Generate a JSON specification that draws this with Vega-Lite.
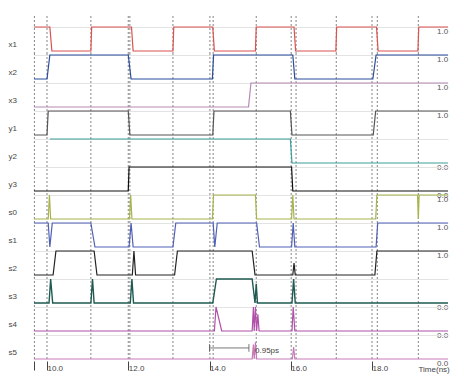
{
"$schema": "https://vega.github.io/schema/vega-lite/v6.json",
"padding": {"left": 8, "top": 15, "right": 5, "bottom": 5},
"config": {"view": {"stroke": null}, "font": "Liberation Sans"},
"spacing": 0,
"bounds": "flush",
"datasets": {
"rules": [{"t":9.69},{"t":10.0},{"t":11.08},{"t":12.0},{"t":12.04},{"t":13.1},{"t":14.01},{"t":14.09},{"t":15.15},{"t":16.01},{"t":16.13},{"t":17.12},{"t":18.0},{"t":18.13},{"t":19.14}],
"ends": [{"s":"x1","v":1,"lab":"1.0"},{"s":"x2","v":1,"lab":"1.0"},{"s":"x3","v":1,"lab":"1.0"},{"s":"y1","v":1,"lab":"1.0"},{"s":"y2","v":0,"lab":"0.0"},{"s":"y3","v":0,"lab":"0.0"},{"s":"s0","v":1,"lab":"1.0"},{"s":"s1","v":1,"lab":"1.0"},{"s":"s2","v":1,"lab":"1.0"},{"s":"s3","v":0,"lab":"0.0"},{"s":"s4","v":0,"lab":"0.0"},{"s":"s5","v":0,"lab":"0.0"}],
"meas": [{"t1":14.0,"t2":14.97,"v":0.46,"lo":0.3,"hi":0.62,"tl":15.12,"vl":0.33,"lab":"0.95ps"}],
"wave": [
{"s":"x1","t":9.68,"v":1},{"s":"x1","t":10.07,"v":1},{"s":"x1","t":10.12,"v":0},{"s":"x1","t":11.08,"v":0},{"s":"x1","t":11.1,"v":1},{"s":"x1","t":12.08,"v":1},{"s":"x1","t":12.12,"v":0},{"s":"x1","t":13.1,"v":0},{"s":"x1","t":13.12,"v":1},{"s":"x1","t":14.08,"v":1},{"s":"x1","t":14.12,"v":0},{"s":"x1","t":15.13,"v":0},{"s":"x1","t":15.15,"v":1},{"s":"x1","t":16.08,"v":1},{"s":"x1","t":16.12,"v":0},{"s":"x1","t":17.11,"v":0},{"s":"x1","t":17.13,"v":1},{"s":"x1","t":18.11,"v":1},{"s":"x1","t":18.15,"v":0},{"s":"x1","t":19.13,"v":0},{"s":"x1","t":19.15,"v":1},{"s":"x1","t":19.87,"v":1},
{"s":"x2","t":9.68,"v":0},{"s":"x2","t":10.0,"v":0},{"s":"x2","t":10.07,"v":1},{"s":"x2","t":12.0,"v":1},{"s":"x2","t":12.07,"v":0},{"s":"x2","t":14.07,"v":0},{"s":"x2","t":14.1,"v":1},{"s":"x2","t":16.05,"v":1},{"s":"x2","t":16.1,"v":0},{"s":"x2","t":18.02,"v":0},{"s":"x2","t":18.1,"v":1},{"s":"x2","t":19.87,"v":1},
{"s":"x3","t":9.68,"v":0},{"s":"x3","t":14.96,"v":0},{"s":"x3","t":15.02,"v":1},{"s":"x3","t":19.87,"v":1},
{"s":"y1","t":9.68,"v":0},{"s":"y1","t":10.0,"v":0},{"s":"y1","t":10.03,"v":1},{"s":"y1","t":12.0,"v":1},{"s":"y1","t":12.04,"v":0},{"s":"y1","t":14.08,"v":0},{"s":"y1","t":14.11,"v":1},{"s":"y1","t":15.99,"v":1},{"s":"y1","t":16.03,"v":0},{"s":"y1","t":18.03,"v":0},{"s":"y1","t":18.09,"v":1},{"s":"y1","t":19.87,"v":1},
{"s":"y2","t":10.07,"v":1},{"s":"y2","t":15.99,"v":1},{"s":"y2","t":16.03,"v":0},{"s":"y2","t":19.87,"v":0},
{"s":"y3","t":9.68,"v":0},{"s":"y3","t":12.0,"v":0},{"s":"y3","t":12.02,"v":1},{"s":"y3","t":16.02,"v":1},{"s":"y3","t":16.05,"v":0},{"s":"y3","t":19.87,"v":0},
{"s":"s0","t":9.68,"v":0},{"s":"s0","t":10.03,"v":0},{"s":"s0","t":10.06,"v":1},{"s":"s0","t":10.09,"v":0},{"s":"s0","t":12.03,"v":0},{"s":"s0","t":12.06,"v":1},{"s":"s0","t":12.09,"v":0},{"s":"s0","t":14.07,"v":0},{"s":"s0","t":14.1,"v":1},{"s":"s0","t":15.13,"v":1},{"s":"s0","t":15.16,"v":0},{"s":"s0","t":16.02,"v":0},{"s":"s0","t":16.05,"v":1},{"s":"s0","t":16.08,"v":0},{"s":"s0","t":18.09,"v":0},{"s":"s0","t":18.12,"v":1},{"s":"s0","t":19.12,"v":1},{"s":"s0","t":19.14,"v":0},{"s":"s0","t":19.16,"v":1},{"s":"s0","t":19.87,"v":1},
{"s":"s1","t":9.68,"v":1},{"s":"s1","t":10.03,"v":1},{"s":"s1","t":10.07,"v":0},{"s":"s1","t":10.13,"v":1},{"s":"s1","t":11.08,"v":1},{"s":"s1","t":11.18,"v":0},{"s":"s1","t":12.02,"v":0},{"s":"s1","t":12.07,"v":1},{"s":"s1","t":12.12,"v":0},{"s":"s1","t":13.1,"v":0},{"s":"s1","t":13.17,"v":1},{"s":"s1","t":14.09,"v":1},{"s":"s1","t":14.13,"v":0},{"s":"s1","t":14.19,"v":1},{"s":"s1","t":15.16,"v":1},{"s":"s1","t":15.23,"v":0},{"s":"s1","t":16.02,"v":0},{"s":"s1","t":16.06,"v":1},{"s":"s1","t":16.1,"v":0},{"s":"s1","t":18.1,"v":0},{"s":"s1","t":18.14,"v":1},{"s":"s1","t":19.87,"v":1},
{"s":"s2","t":9.68,"v":0},{"s":"s2","t":10.15,"v":0},{"s":"s2","t":10.22,"v":1},{"s":"s2","t":11.16,"v":1},{"s":"s2","t":11.23,"v":0},{"s":"s2","t":12.1,"v":0},{"s":"s2","t":12.14,"v":1},{"s":"s2","t":12.18,"v":0},{"s":"s2","t":13.14,"v":0},{"s":"s2","t":13.21,"v":1},{"s":"s2","t":15.05,"v":1},{"s":"s2","t":15.12,"v":0},{"s":"s2","t":16.05,"v":0},{"s":"s2","t":16.08,"v":0.5},{"s":"s2","t":16.11,"v":0},{"s":"s2","t":18.07,"v":0},{"s":"s2","t":18.12,"v":1},{"s":"s2","t":19.87,"v":1},
{"s":"s3","t":9.68,"v":0},{"s":"s3","t":10.05,"v":0},{"s":"s3","t":10.09,"v":1},{"s":"s3","t":10.14,"v":0},{"s":"s3","t":11.08,"v":0},{"s":"s3","t":11.12,"v":1},{"s":"s3","t":11.16,"v":0},{"s":"s3","t":12.05,"v":0},{"s":"s3","t":12.09,"v":1},{"s":"s3","t":12.13,"v":0},{"s":"s3","t":14.08,"v":0},{"s":"s3","t":14.17,"v":1},{"s":"s3","t":15.05,"v":1},{"s":"s3","t":15.12,"v":0},{"s":"s3","t":15.15,"v":0.8},{"s":"s3","t":15.18,"v":0},{"s":"s3","t":16.03,"v":0},{"s":"s3","t":16.07,"v":1},{"s":"s3","t":16.11,"v":0},{"s":"s3","t":19.87,"v":0},
{"s":"s4","t":9.68,"v":0},{"s":"s4","t":14.12,"v":0},{"s":"s4","t":14.16,"v":1},{"s":"s4","t":14.3,"v":0},{"s":"s4","t":15.05,"v":0},{"s":"s4","t":15.08,"v":1},{"s":"s4","t":15.1,"v":0},{"s":"s4","t":15.13,"v":1},{"s":"s4","t":15.16,"v":0},{"s":"s4","t":15.19,"v":0.7},{"s":"s4","t":15.22,"v":0},{"s":"s4","t":16.03,"v":0},{"s":"s4","t":16.06,"v":1},{"s":"s4","t":16.1,"v":0},{"s":"s4","t":19.87,"v":0},
{"s":"s5","t":9.68,"v":0},{"s":"s5","t":15.05,"v":0},{"s":"s5","t":15.08,"v":0.6},{"s":"s5","t":15.1,"v":0},{"s":"s5","t":15.13,"v":0.7},{"s":"s5","t":15.16,"v":0},{"s":"s5","t":16.04,"v":0},{"s":"s5","t":16.07,"v":0.5},{"s":"s5","t":16.1,"v":0},{"s":"s5","t":19.87,"v":0}
]
},
"resolve": {"scale": {"y": "independent"}},
"vconcat": [
{"width":414,"height":37,"layer":[
{"data":{"name":"rules"},"mark":{"type":"rule","color":"#666","strokeDash":[2,2],"strokeWidth":0.8},"encoding":{"x":{"field":"t","type":"quantitative","scale":{"domain":[9.68,19.87],"nice":false,"zero":false},"axis":null}}},
{"data":{"name":"wave"},"transform":[{"filter":{"field":"s","equal":"x1"}}],"mark":{"type":"line","color":"#d9534f","strokeWidth":1.2,"clip":true},"encoding":{"x":{"field":"t","type":"quantitative","axis":null},"y":{"field":"v","type":"quantitative","scale":{"domain":[-0.0833,1.4583],"nice":false,"zero":false},"axis":{"title":"x1","values":[1],"labels":false,"ticks":false,"domain":false,"grid":true,"gridColor":"#e3e3e3","titleAngle":0,"titleAlign":"left","titleBaseline":"middle","titleX":-26,"titleY":28,"titleFontSize":8,"titleFontWeight":"normal","titleColor":"#444"}}}},
{"data":{"name":"ends"},"transform":[{"filter":{"field":"s","equal":"x1"}}],"mark":{"type":"text","align":"left","baseline":"middle","dy":5,"fontSize":8,"color":"#555"},"encoding":{"x":{"datum":19.6},"y":{"field":"v","type":"quantitative"},"text":{"field":"lab"}}}
]},
{"width":414,"height":28,"layer":[
{"data":{"name":"rules"},"mark":{"type":"rule","color":"#666","strokeDash":[2,2],"strokeWidth":0.8},"encoding":{"x":{"field":"t","type":"quantitative","scale":{"domain":[9.68,19.87],"nice":false,"zero":false},"axis":null}}},
{"data":{"name":"wave"},"transform":[{"filter":{"field":"s","equal":"x2"}}],"mark":{"type":"line","color":"#2b4c9b","strokeWidth":1.2,"clip":true},"encoding":{"x":{"field":"t","type":"quantitative","axis":null},"y":{"field":"v","type":"quantitative","scale":{"domain":[-0.0833,1.0833],"nice":false,"zero":false},"axis":{"title":"x2","values":[1],"labels":false,"ticks":false,"domain":false,"grid":true,"gridColor":"#e3e3e3","titleAngle":0,"titleAlign":"left","titleBaseline":"middle","titleX":-26,"titleY":19,"titleFontSize":8,"titleFontWeight":"normal","titleColor":"#444"}}}},
{"data":{"name":"ends"},"transform":[{"filter":{"field":"s","equal":"x2"}}],"mark":{"type":"text","align":"left","baseline":"middle","dy":5,"fontSize":8,"color":"#555"},"encoding":{"x":{"datum":19.6},"y":{"field":"v","type":"quantitative"},"text":{"field":"lab"}}}
]},
{"width":414,"height":28,"layer":[
{"data":{"name":"rules"},"mark":{"type":"rule","color":"#666","strokeDash":[2,2],"strokeWidth":0.8},"encoding":{"x":{"field":"t","type":"quantitative","scale":{"domain":[9.68,19.87],"nice":false,"zero":false},"axis":null}}},
{"data":{"name":"wave"},"transform":[{"filter":{"field":"s","equal":"x3"}}],"mark":{"type":"line","color":"#b48ab4","strokeWidth":1.2,"clip":true},"encoding":{"x":{"field":"t","type":"quantitative","axis":null},"y":{"field":"v","type":"quantitative","scale":{"domain":[-0.0833,1.0833],"nice":false,"zero":false},"axis":{"title":"x3","values":[1],"labels":false,"ticks":false,"domain":false,"grid":true,"gridColor":"#e3e3e3","titleAngle":0,"titleAlign":"left","titleBaseline":"middle","titleX":-26,"titleY":19,"titleFontSize":8,"titleFontWeight":"normal","titleColor":"#444"}}}},
{"data":{"name":"ends"},"transform":[{"filter":{"field":"s","equal":"x3"}}],"mark":{"type":"text","align":"left","baseline":"middle","dy":5,"fontSize":8,"color":"#555"},"encoding":{"x":{"datum":19.6},"y":{"field":"v","type":"quantitative"},"text":{"field":"lab"}}}
]},
{"width":414,"height":28,"layer":[
{"data":{"name":"rules"},"mark":{"type":"rule","color":"#666","strokeDash":[2,2],"strokeWidth":0.8},"encoding":{"x":{"field":"t","type":"quantitative","scale":{"domain":[9.68,19.87],"nice":false,"zero":false},"axis":null}}},
{"data":{"name":"wave"},"transform":[{"filter":{"field":"s","equal":"y1"}}],"mark":{"type":"line","color":"#555555","strokeWidth":1.2,"clip":true},"encoding":{"x":{"field":"t","type":"quantitative","axis":null},"y":{"field":"v","type":"quantitative","scale":{"domain":[-0.0833,1.0833],"nice":false,"zero":false},"axis":{"title":"y1","values":[1],"labels":false,"ticks":false,"domain":false,"grid":true,"gridColor":"#e3e3e3","titleAngle":0,"titleAlign":"left","titleBaseline":"middle","titleX":-26,"titleY":19,"titleFontSize":8,"titleFontWeight":"normal","titleColor":"#444"}}}},
{"data":{"name":"ends"},"transform":[{"filter":{"field":"s","equal":"y1"}}],"mark":{"type":"text","align":"left","baseline":"middle","dy":5,"fontSize":8,"color":"#555"},"encoding":{"x":{"datum":19.6},"y":{"field":"v","type":"quantitative"},"text":{"field":"lab"}}}
]},
{"width":414,"height":28,"layer":[
{"data":{"name":"rules"},"mark":{"type":"rule","color":"#666","strokeDash":[2,2],"strokeWidth":0.8},"encoding":{"x":{"field":"t","type":"quantitative","scale":{"domain":[9.68,19.87],"nice":false,"zero":false},"axis":null}}},
{"data":{"name":"wave"},"transform":[{"filter":{"field":"s","equal":"y2"}}],"mark":{"type":"line","color":"#3a9e9e","strokeWidth":1.2,"clip":true},"encoding":{"x":{"field":"t","type":"quantitative","axis":null},"y":{"field":"v","type":"quantitative","scale":{"domain":[-0.0833,1.0833],"nice":false,"zero":false},"axis":{"title":"y2","values":[1],"labels":false,"ticks":false,"domain":false,"grid":true,"gridColor":"#e3e3e3","titleAngle":0,"titleAlign":"left","titleBaseline":"middle","titleX":-26,"titleY":19,"titleFontSize":8,"titleFontWeight":"normal","titleColor":"#444"}}}},
{"data":{"name":"ends"},"transform":[{"filter":{"field":"s","equal":"y2"}}],"mark":{"type":"text","align":"left","baseline":"middle","dy":5,"fontSize":8,"color":"#555"},"encoding":{"x":{"datum":19.6},"y":{"field":"v","type":"quantitative"},"text":{"field":"lab"}}}
]},
{"width":414,"height":28,"layer":[
{"data":{"name":"rules"},"mark":{"type":"rule","color":"#666","strokeDash":[2,2],"strokeWidth":0.8},"encoding":{"x":{"field":"t","type":"quantitative","scale":{"domain":[9.68,19.87],"nice":false,"zero":false},"axis":null}}},
{"data":{"name":"wave"},"transform":[{"filter":{"field":"s","equal":"y3"}}],"mark":{"type":"line","color":"#111111","strokeWidth":1.2,"clip":true},"encoding":{"x":{"field":"t","type":"quantitative","axis":null},"y":{"field":"v","type":"quantitative","scale":{"domain":[-0.0833,1.0833],"nice":false,"zero":false},"axis":{"title":"y3","values":[1],"labels":false,"ticks":false,"domain":false,"grid":true,"gridColor":"#e3e3e3","titleAngle":0,"titleAlign":"left","titleBaseline":"middle","titleX":-26,"titleY":19,"titleFontSize":8,"titleFontWeight":"normal","titleColor":"#444"}}}},
{"data":{"name":"ends"},"transform":[{"filter":{"field":"s","equal":"y3"}}],"mark":{"type":"text","align":"left","baseline":"middle","dy":5,"fontSize":8,"color":"#555"},"encoding":{"x":{"datum":19.6},"y":{"field":"v","type":"quantitative"},"text":{"field":"lab"}}}
]},
{"width":414,"height":28,"layer":[
{"data":{"name":"rules"},"mark":{"type":"rule","color":"#666","strokeDash":[2,2],"strokeWidth":0.8},"encoding":{"x":{"field":"t","type":"quantitative","scale":{"domain":[9.68,19.87],"nice":false,"zero":false},"axis":null}}},
{"data":{"name":"wave"},"transform":[{"filter":{"field":"s","equal":"s0"}}],"mark":{"type":"line","color":"#a8b44a","strokeWidth":1.2,"clip":true},"encoding":{"x":{"field":"t","type":"quantitative","axis":null},"y":{"field":"v","type":"quantitative","scale":{"domain":[-0.0833,1.0833],"nice":false,"zero":false},"axis":{"title":"s0","values":[1],"labels":false,"ticks":false,"domain":false,"grid":true,"gridColor":"#e3e3e3","titleAngle":0,"titleAlign":"left","titleBaseline":"middle","titleX":-26,"titleY":19,"titleFontSize":8,"titleFontWeight":"normal","titleColor":"#444"}}}},
{"data":{"name":"ends"},"transform":[{"filter":{"field":"s","equal":"s0"}}],"mark":{"type":"text","align":"left","baseline":"middle","dy":5,"fontSize":8,"color":"#555"},"encoding":{"x":{"datum":19.6},"y":{"field":"v","type":"quantitative"},"text":{"field":"lab"}}}
]},
{"width":414,"height":28,"layer":[
{"data":{"name":"rules"},"mark":{"type":"rule","color":"#666","strokeDash":[2,2],"strokeWidth":0.8},"encoding":{"x":{"field":"t","type":"quantitative","scale":{"domain":[9.68,19.87],"nice":false,"zero":false},"axis":null}}},
{"data":{"name":"wave"},"transform":[{"filter":{"field":"s","equal":"s1"}}],"mark":{"type":"line","color":"#5060b8","strokeWidth":1.2,"clip":true},"encoding":{"x":{"field":"t","type":"quantitative","axis":null},"y":{"field":"v","type":"quantitative","scale":{"domain":[-0.0833,1.0833],"nice":false,"zero":false},"axis":{"title":"s1","values":[1],"labels":false,"ticks":false,"domain":false,"grid":true,"gridColor":"#e3e3e3","titleAngle":0,"titleAlign":"left","titleBaseline":"middle","titleX":-26,"titleY":19,"titleFontSize":8,"titleFontWeight":"normal","titleColor":"#444"}}}},
{"data":{"name":"ends"},"transform":[{"filter":{"field":"s","equal":"s1"}}],"mark":{"type":"text","align":"left","baseline":"middle","dy":5,"fontSize":8,"color":"#555"},"encoding":{"x":{"datum":19.6},"y":{"field":"v","type":"quantitative"},"text":{"field":"lab"}}}
]},
{"width":414,"height":28,"layer":[
{"data":{"name":"rules"},"mark":{"type":"rule","color":"#666","strokeDash":[2,2],"strokeWidth":0.8},"encoding":{"x":{"field":"t","type":"quantitative","scale":{"domain":[9.68,19.87],"nice":false,"zero":false},"axis":null}}},
{"data":{"name":"wave"},"transform":[{"filter":{"field":"s","equal":"s2"}}],"mark":{"type":"line","color":"#222222","strokeWidth":1.2,"clip":true},"encoding":{"x":{"field":"t","type":"quantitative","axis":null},"y":{"field":"v","type":"quantitative","scale":{"domain":[-0.0833,1.0833],"nice":false,"zero":false},"axis":{"title":"s2","values":[1],"labels":false,"ticks":false,"domain":false,"grid":true,"gridColor":"#e3e3e3","titleAngle":0,"titleAlign":"left","titleBaseline":"middle","titleX":-26,"titleY":19,"titleFontSize":8,"titleFontWeight":"normal","titleColor":"#444"}}}},
{"data":{"name":"ends"},"transform":[{"filter":{"field":"s","equal":"s2"}}],"mark":{"type":"text","align":"left","baseline":"middle","dy":5,"fontSize":8,"color":"#555"},"encoding":{"x":{"datum":19.6},"y":{"field":"v","type":"quantitative"},"text":{"field":"lab"}}}
]},
{"width":414,"height":28,"layer":[
{"data":{"name":"rules"},"mark":{"type":"rule","color":"#666","strokeDash":[2,2],"strokeWidth":0.8},"encoding":{"x":{"field":"t","type":"quantitative","scale":{"domain":[9.68,19.87],"nice":false,"zero":false},"axis":null}}},
{"data":{"name":"wave"},"transform":[{"filter":{"field":"s","equal":"s3"}}],"mark":{"type":"line","color":"#1f5a52","strokeWidth":1.4,"clip":true},"encoding":{"x":{"field":"t","type":"quantitative","axis":null},"y":{"field":"v","type":"quantitative","scale":{"domain":[-0.0833,1.0833],"nice":false,"zero":false},"axis":{"title":"s3","values":[1],"labels":false,"ticks":false,"domain":false,"grid":true,"gridColor":"#e3e3e3","titleAngle":0,"titleAlign":"left","titleBaseline":"middle","titleX":-26,"titleY":19,"titleFontSize":8,"titleFontWeight":"normal","titleColor":"#444"}}}},
{"data":{"name":"ends"},"transform":[{"filter":{"field":"s","equal":"s3"}}],"mark":{"type":"text","align":"left","baseline":"middle","dy":5,"fontSize":8,"color":"#555"},"encoding":{"x":{"datum":19.6},"y":{"field":"v","type":"quantitative"},"text":{"field":"lab"}}}
]},
{"width":414,"height":28,"layer":[
{"data":{"name":"rules"},"mark":{"type":"rule","color":"#666","strokeDash":[2,2],"strokeWidth":0.8},"encoding":{"x":{"field":"t","type":"quantitative","scale":{"domain":[9.68,19.87],"nice":false,"zero":false},"axis":null}}},
{"data":{"name":"wave"},"transform":[{"filter":{"field":"s","equal":"s4"}}],"mark":{"type":"line","color":"#b050a8","strokeWidth":1.2,"clip":true},"encoding":{"x":{"field":"t","type":"quantitative","axis":null},"y":{"field":"v","type":"quantitative","scale":{"domain":[-0.0833,1.0833],"nice":false,"zero":false},"axis":{"title":"s4","values":[1],"labels":false,"ticks":false,"domain":false,"grid":true,"gridColor":"#e3e3e3","titleAngle":0,"titleAlign":"left","titleBaseline":"middle","titleX":-26,"titleY":19,"titleFontSize":8,"titleFontWeight":"normal","titleColor":"#444"}}}},
{"data":{"name":"ends"},"transform":[{"filter":{"field":"s","equal":"s4"}}],"mark":{"type":"text","align":"left","baseline":"middle","dy":5,"fontSize":8,"color":"#555"},"encoding":{"x":{"datum":19.6},"y":{"field":"v","type":"quantitative"},"text":{"field":"lab"}}}
]},
{"width":414,"height":28,"layer":[
{"data":{"name":"rules"},"mark":{"type":"rule","color":"#666","strokeDash":[2,2],"strokeWidth":0.8},"encoding":{"x":{"field":"t","type":"quantitative","scale":{"domain":[9.68,19.87],"nice":false,"zero":false},"axis":{"values":[9.69,10,12,14,16,18],"labelExpr":"datum.value < 9.9 ? '' : format(datum.value, '.1f')","labelAlign":"left","labelDx":1,"tickSize":9,"tickColor":"#444","labelPadding":-6,"labelFontSize":8,"labelColor":"#444","domain":false,"grid":false,"title":"Time(ns)","titleX":384,"titleY":4,"titleAlign":"left","titleBaseline":"top","titleFontSize":8,"titleFontWeight":"normal","titleColor":"#444"}}}},
{"data":{"name":"wave"},"transform":[{"filter":{"field":"s","equal":"s5"}}],"mark":{"type":"line","color":"#c878b8","strokeWidth":1.2,"clip":true},"encoding":{"x":{"field":"t","type":"quantitative"},"y":{"field":"v","type":"quantitative","scale":{"domain":[-0.0833,1.0833],"nice":false,"zero":false},"axis":{"title":"s5","values":[1],"labels":false,"ticks":false,"domain":false,"grid":true,"gridColor":"#e3e3e3","titleAngle":0,"titleAlign":"left","titleBaseline":"middle","titleX":-26,"titleY":19,"titleFontSize":8,"titleFontWeight":"normal","titleColor":"#444"}}}},
{"data":{"name":"ends"},"transform":[{"filter":{"field":"s","equal":"s5"}}],"mark":{"type":"text","align":"left","baseline":"middle","dy":5,"fontSize":8,"color":"#555"},"encoding":{"x":{"datum":19.6},"y":{"field":"v","type":"quantitative"},"text":{"field":"lab"}}},
{"data":{"name":"meas"},"mark":{"type":"rule","color":"#555","strokeWidth":0.8},"encoding":{"x":{"field":"t1","type":"quantitative"},"x2":{"field":"t2"},"y":{"field":"v","type":"quantitative"}}},
{"data":{"name":"meas"},"mark":{"type":"rule","color":"#555","strokeWidth":0.8},"encoding":{"x":{"field":"t1","type":"quantitative"},"y":{"field":"lo","type":"quantitative"},"y2":{"field":"hi"}}},
{"data":{"name":"meas"},"mark":{"type":"rule","color":"#555","strokeWidth":0.8},"encoding":{"x":{"field":"t2","type":"quantitative"},"y":{"field":"lo","type":"quantitative"},"y2":{"field":"hi"}}},
{"data":{"name":"meas"},"mark":{"type":"text","align":"left","baseline":"middle","fontSize":8,"color":"#444"},"encoding":{"x":{"field":"tl","type":"quantitative"},"y":{"field":"vl","type":"quantitative"},"text":{"field":"lab"}}}
]}
]
}
